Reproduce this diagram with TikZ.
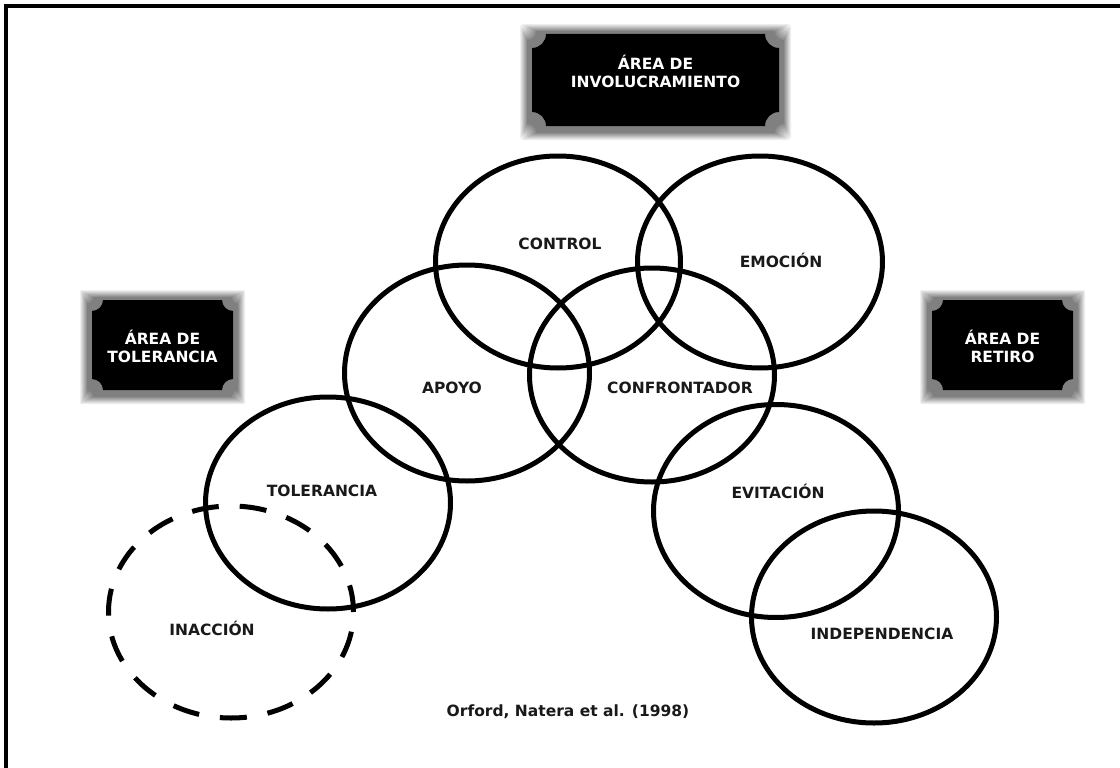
\documentclass[tikz,border=0pt]{standalone}
\usepackage{fontspec}
\setmainfont{DejaVu Sans}
\usetikzlibrary{shapes.geometric}
% concave-cornered plaque path: style, cx, cy, half width, half height, corner radius
\newcommand\plaqueshape[6]{%
  \path[#1] (#2-#4+#6,#3-#5) -- (#2+#4-#6,#3-#5)
    arc[start angle=180,end angle=90,radius=#6] -- (#2+#4,#3+#5-#6)
    arc[start angle=270,end angle=180,radius=#6] -- (#2-#4+#6,#3+#5)
    arc[start angle=360,end angle=270,radius=#6] -- (#2-#4,#3-#5+#6)
    arc[start angle=90,end angle=0,radius=#6] -- cycle;}
% plaque with glow: cx, cy, hw, hh, r, node name, text y, text
\newcommand\plaque[8]{%
  \foreach \k in {12,...,1}{%
    \pgfmathtruncatemacro\pqg{min(50,75*(13-\k)/12)}%
    \pgfmathsetmacro\pqr{max(#5-\k,1)}%
    \pgfmathsetmacro\pqw{#3+\k}%
    \pgfmathsetmacro\pqh{#4+\k}%
    \pgfmathsetmacro\pqy{#2+2}%
    \plaqueshape{fill=black!\pqg}{#1}{\pqy}{\pqw}{\pqh}{\pqr}%
  }%
  \plaqueshape{fill=black}{#1}{#2}{#3}{#4}{#5}%
  \node[plaquetext] (#6) at (#1,#7) {#8};%
}
\begin{document}
\begin{tikzpicture}[x=1pt,y=-1pt,
  ring/.style={ellipse, draw=black, line width=5pt, minimum width=245pt,
    minimum height=212pt, inner sep=0pt},
  dashring/.style={ring, dash pattern=on 27pt off 21pt},
  lab/.style={font=\fontsize{15.5}{18}\selectfont\bfseries, text=black!90, inner sep=0pt},
  plaquetext/.style={font=\fontsize{15.5}{18}\selectfont\bfseries, text=white,
    align=center, inner sep=0pt}]
\useasboundingbox (0,0) rectangle (1120,768);
\fill[white] (0,0) rectangle (1120,768);
% frame (top and left edges visible)
\draw[line width=4.3pt] (6.2,768) -- (6.2,6.2) -- (1120,6.2);

% plaques
\plaque{655.5}{80}{123.5}{46}{14}{involucramiento}{71}{ÁREA DE\\INVOLUCRAMIENTO}
\plaque{162.5}{345}{70.5}{45}{11}{tolerancia}{346}{ÁREA DE\\TOLERANCIA}
\plaque{1002.5}{345}{70.5}{45}{11}{retiro}{346}{ÁREA DE\\RETIRO}

% rings
\node[ring] (control) at (558,262) {};
\node[ring] (emocion) at (760,262) {};
\node[ring, minimum height=216pt] (apoyo) at (467,373) {};
\node[ring, minimum height=214pt] (confrontador) at (652,375) {};
\node[ring] (toleranciaC) at (328,503) {};
\node[ring, minimum height=213pt] (evitacion) at (776,511) {};
\node[ring] (independencia) at (874,617) {};
\node[dashring] (inaccion) at (231,612) {};

% labels
\node[lab] (tcontrol) at (560,244) {CONTROL};
\node[lab] (temocion) at (781,260) {EMOCIÓN};
\node[lab] (tapoyo) at (452,388) {APOYO};
\node[lab] (tconfrontador) at (680,388) {CONFRONTADOR};
\node[lab] (ttolerancia) at (322,491) {TOLERANCIA};
\node[lab] (tevitacion) at (778,491) {EVITACIÓN};
\node[lab] (tinaccion) at (212,628) {INACCIÓN};
\node[lab] (tindependencia) at (882,634) {INDEPENDENCIA};
\node[lab] (cita) at (568,712) {Orford, Natera et al. (1998)};
\end{tikzpicture}
\end{document}
